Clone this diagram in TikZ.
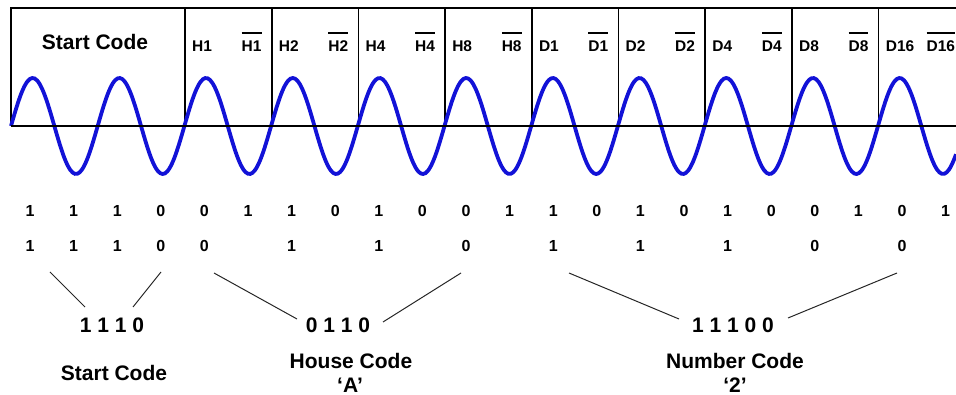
\documentclass[tikz,border=0pt]{standalone}
\usepackage{fontspec}
\setmainfont{Liberation Sans}
\definecolor{wblue}{RGB}{18,18,215}
\newcommand\barlbl[1]{\vbox{\hrule height 1.4pt\kern 7.5pt\hbox{#1}}}
\begin{document}
\begin{tikzpicture}[x=1pt,y=-1pt,
  lbl/.style={font=\fontsize{15.5}{18}\selectfont\bfseries, inner sep=0},
  bit/.style={font=\fontsize{16}{19}\selectfont\bfseries, inner sep=0, anchor=base},
  big/.style={font=\fontsize{21}{25}\selectfont\bfseries, inner sep=0, anchor=base},
  frameline/.style={line width=2.2pt},
  divider/.style={line width=1.6pt},
  wave/.style={line width=3.8pt, color=wblue},
  conn/.style={line width=1pt, black!85}]
\useasboundingbox (0,0) rectangle (956,395);
% frame
\draw[frameline] (956,8) -- (11,8) -- (11,126);
\foreach \j in {0,...,8}
  \draw[divider] ({185+86.7*\j},8) -- ({185+86.7*\j},126);
% wave
\draw[wave] plot[domain=11:956, samples=400, smooth] (\x, {126-48*sin((\x-11)/86.7*360)});
\draw[frameline] (11,126) -- (956,126);
% top labels
\node[font=\fontsize{21}{25}\selectfont\bfseries, inner sep=0, anchor=base] (stop) at (95,50) {Start Code};
\foreach \n [count=\j from 0] in {H1,H2,H4,H8,D1,D2,D4,D8,D16} {
  \node[lbl, anchor=base west] (p\j) at ({185+86.7*\j+7},52) {\n};
  \node[lbl, anchor=base east] (q\j) at ({185+86.7*\j+76.7},52) {\barlbl{\n}};
}
% bit rows
\foreach \v [count=\k from 0] in {1,1,1,0,0,1,1,0,1,0,0,1,1,0,1,0,1,0,0,1,0,1}
  \node[bit] (r\k) at ({30+43.6*\k},217) {\v};
\foreach \k/\v in {0/1,1/1,2/1,3/0,4/0,6/1,8/1,10/0,12/1,14/1,16/1,18/0,20/0}
  \node[bit] (s\k) at ({30+43.6*\k},252) {\v};
% codes
\node[big] (sc) at (112,333) {1 1 1 0};
\node[big] (hc) at (338,333) {0 1 1 0};
\node[big] (nc) at (733,333) {1 1 1 0 0};
\node[big] (scl) at (114,380) {Start Code};
\node[big] (hcl) at (351,368) {House Code};
\node[big] (hca) at (350,392) {‘A’};
\node[big] (ncl) at (735,368) {Number Code};
\node[big] (nca) at (735,392) {‘2’};
% connectors
\coordinate (a1) at (50,272);  \coordinate (a2) at (85,307);
\coordinate (b1) at (161,272); \coordinate (b2) at (133,307);
\coordinate (c1) at (214,273); \coordinate (c2) at (297,319);
\coordinate (d1) at (461,273); \coordinate (d2) at (383,322);
\coordinate (e1) at (569,273); \coordinate (e2) at (679,319);
\coordinate (f1) at (897,273); \coordinate (f2) at (788,318);
\draw[conn] (a1) -- (a2);
\draw[conn] (b1) -- (b2);
\draw[conn] (c1) -- (c2);
\draw[conn] (d1) -- (d2);
\draw[conn] (e1) -- (e2);
\draw[conn] (f1) -- (f2);
\end{tikzpicture}
\end{document}
